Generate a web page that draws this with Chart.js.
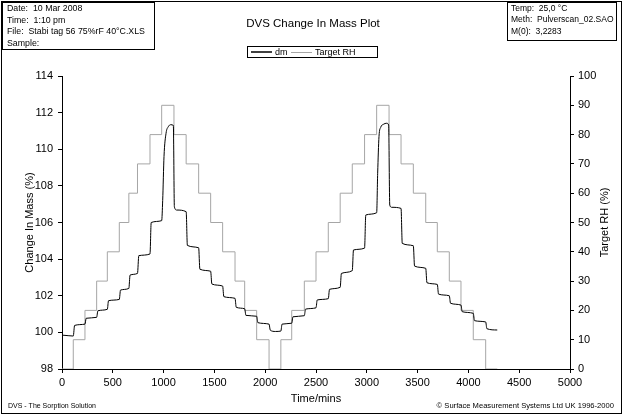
<!DOCTYPE html>
<html>
<head>
<meta charset="utf-8">
<script src="https://cdn.jsdelivr.net/npm/chart.js@4/dist/chart.umd.min.js"></script>
<style>
  html, body { margin: 0; padding: 0; background: #fff; }
</style>
</head>
<body>
<canvas id="c" width="624" height="415"></canvas>
<script>
// target RH steps: time (min) at which the new level starts
const rhTime  = [0, 111, 226, 341, 446, 564, 658, 743, 866, 981, 1102, 1222, 1345, 1463, 1581, 1703, 1798, 1916, 2038,
                 2154, 2261, 2385, 2500, 2621, 2738, 2857, 2978, 3097, 3219, 3337, 3458, 3580, 3694, 3812, 3927, 4048, 4170, 4284];
const rhLevel = [0, 10, 20, 30, 40, 50, 60, 70, 80, 90, 80, 70, 60, 50, 40, 30, 20, 10, 0,
                 10, 20, 30, 40, 50, 60, 70, 80, 90, 80, 70, 60, 50, 40, 30, 20, 10, 0, 0];

// change in mass (%)
const dmTime = [0, 60, 111, 124, 226, 238, 341, 353, 446, 458, 564, 576, 658, 670, 743, 756, 866, 878, 981,
                991, 1004, 1024, 1046, 1070, 1096, 1106, 1129, 1222, 1234, 1345, 1357, 1463, 1475, 1581, 1593, 1703,
                1715, 1798, 1810, 1916, 1928, 2038, 2050, 2100, 2154, 2166, 2261, 2273, 2385, 2397, 2500, 2512, 2621,
                2633, 2738, 2750, 2857, 2869, 2978, 2990, 3097, 3107, 3120, 3137, 3163, 3196, 3215, 3226, 3245, 3337,
                3349, 3458, 3470, 3580, 3592, 3694, 3706, 3812, 3824, 3927, 3939, 4048, 4060, 4170, 4182, 4284];
const dmMass = [99.85, 99.82, 99.8, 100.38, 100.45, 100.77, 100.82, 101.18, 101.26, 101.73, 101.8, 102.31, 102.4, 103.13, 103.22, 104.19, 104.28, 106.0, 106.1,
                107.2, 109.6, 110.87, 111.23, 111.34, 111.3, 106.86, 106.68, 106.59, 104.75, 104.62, 103.45, 103.34, 102.64, 102.53, 101.95, 101.86,
                101.37, 101.29, 100.93, 100.88, 100.53, 100.45, 100.12, 100.05, 100.07, 100.45, 100.5, 100.85, 100.91, 101.27, 101.34, 101.77, 101.84,
                102.35, 102.46, 103.22, 103.37, 104.5, 104.6, 106.41, 106.53, 108.69, 110.69, 111.2, 111.36, 111.42, 111.32, 106.95, 106.83, 106.77,
                104.86, 104.73, 103.62, 103.5, 102.71, 102.62, 102.09, 102.0, 101.59, 101.49, 101.13, 101.04, 100.64, 100.57, 100.2, 100.13];

const infoLeft  = ['Date:  10 Mar 2008', 'Time:  1:10 pm', 'File:  Stabi tag 56 75%rF 40\u00b0C.XLS', 'Sample:'];
const infoRight = ['Temp:  25,0 \u00b0C', 'Meth:  Pulverscan_02.SAO', 'M(0):  3,2283'];

const FONT = '"Liberation Sans", Arial, sans-serif';
const GREY = '#a6a6a6';

Chart.defaults.font.family = FONT;
Chart.defaults.font.size = 11;
Chart.defaults.color = '#000';

const decor = {
  id: 'decor',
  afterDraw(chart) {
    const ctx = chart.ctx;
    const a = chart.chartArea;
    ctx.save();
    ctx.strokeStyle = '#000';
    ctx.fillStyle = '#000';
    ctx.lineWidth = 1;
    // outer frame
    ctx.strokeRect(1.5, 1.5, 620, 412);
    // info boxes
    ctx.strokeRect(2.5, 2.5, 152, 47);
    ctx.strokeRect(507.5, 2.5, 109, 38);
    ctx.textBaseline = 'middle';
    ctx.textAlign = 'left';
    ctx.font = '8.8px ' + FONT;
    infoLeft.forEach((t, i) => ctx.fillText(t, 7, 8.5 + i * 11.6));
    ctx.font = '8.5px ' + FONT;
    infoRight.forEach((t, i) => ctx.fillText(t, 511, 8.5 + i * 11.6));
    // title
    ctx.font = '11.5px ' + FONT;
    ctx.textAlign = 'center';
    ctx.fillText('DVS Change In Mass Plot', 313, 24);
    // legend
    ctx.strokeRect(247.5, 46.5, 130, 11);
    ctx.font = '9px ' + FONT;
    ctx.textAlign = 'left';
    ctx.lineWidth = 1.5;
    ctx.beginPath(); ctx.moveTo(251, 52); ctx.lineTo(272, 52); ctx.stroke();
    ctx.fillText('dm', 275, 52.5);
    ctx.strokeStyle = GREY;
    ctx.lineWidth = 1;
    ctx.beginPath(); ctx.moveTo(291, 52.5); ctx.lineTo(312, 52.5); ctx.stroke();
    ctx.fillText('Target RH', 315, 52.5);
    // right axis title
    ctx.font = '11px ' + FONT;
    ctx.save();
    ctx.translate(605, (a.top + a.bottom) / 2);
    ctx.rotate(-Math.PI / 2);
    ctx.textAlign = 'center';
    ctx.fillText('Target RH (%)', 0, 0);
    ctx.restore();
    // footer
    ctx.font = '7px ' + FONT;
    ctx.textAlign = 'left';
    ctx.fillText('DVS - The Sorption Solution', 8, 406);
    ctx.font = '7.6px ' + FONT;
    ctx.textAlign = 'right';
    ctx.fillText('\u00a9 Surface Measurement Systems Ltd UK 1996-2000', 614, 406);
    ctx.restore();
  }
};

new Chart(document.getElementById('c'), {
  type: 'line',
  data: {
    datasets: [
      {
        label: 'dm',
        data: dmTime.map((t, i) => ({ x: t, y: dmMass[i] })),
        borderColor: '#000',
        borderWidth: 1,
        pointRadius: 0,
        cubicInterpolationMode: 'monotone',
        yAxisID: 'y'
      },
      {
        label: 'Target RH',
        data: rhTime.map((t, i) => ({ x: t, y: rhLevel[i] })),
        borderColor: GREY,
        borderWidth: 1,
        pointRadius: 0,
        stepped: true,
        yAxisID: 'y1'
      }
    ]
  },
  options: {
    responsive: false,
    animation: false,
    layout: { padding: { top: 76, left: 0, right: 0, bottom: 0 } },
    plugins: { legend: { display: false }, title: { display: false }, tooltip: { enabled: false } },
    scales: {
      x: {
        type: 'linear', min: 0, max: 5000,
        ticks: { stepSize: 500, padding: 3, maxRotation: 0, callback: v => String(v) },
        grid: { drawOnChartArea: false, color: '#000', tickLength: 4 },
        border: { color: '#000' },
        title: { display: true, text: 'Time/mins', padding: { top: 0, bottom: 9 } },
        afterFit: s => { s.height = 46; }
      },
      y: {
        position: 'left', min: 98, max: 114,
        ticks: { stepSize: 2, padding: 5, callback: v => String(v) },
        grid: { drawOnChartArea: false, color: '#000', tickLength: 4 },
        border: { color: '#000' },
        title: { display: true, text: 'Change In Mass (%)', padding: { top: 23, bottom: 0 } },
        afterFit: s => { s.width = 62; }
      },
      y1: {
        position: 'right', min: 0, max: 100,
        ticks: { stepSize: 10, padding: 4, callback: v => String(v) },
        grid: { drawOnChartArea: false, color: '#000', tickLength: 4 },
        border: { color: '#000' },
        afterFit: s => { s.width = 54; }
      }
    }
  },
  plugins: [decor]
});
</script>
</body>
</html>
